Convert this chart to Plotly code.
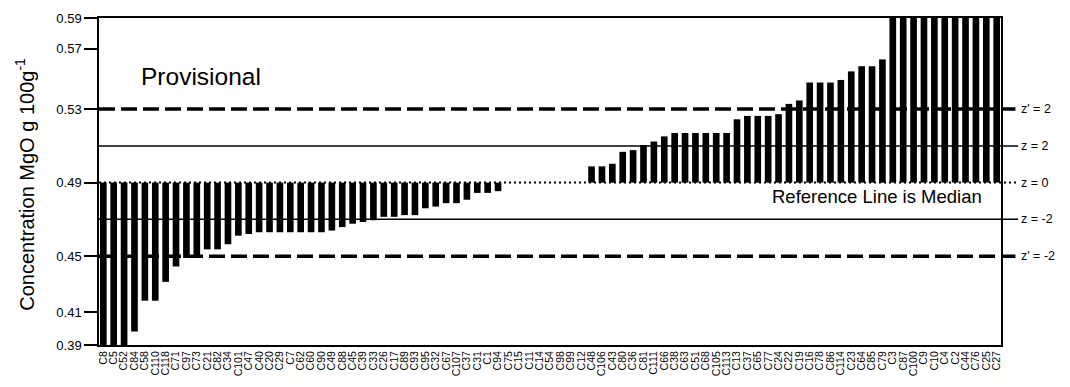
import plotly.graph_objects as go

# Laboratory codes, ordered by reported concentration
labs = [
    "C8", "C5", "C52", "C84", "C58", "C110", "C118", "C71", "C97", "C73",
    "C21", "C82", "C34", "C101", "C47", "C40", "C20", "C29", "C7", "C62",
    "C60", "C90", "C49", "C88", "C45", "C39", "C33", "C26", "C17", "C89",
    "C93", "C95", "C32", "C67", "C107", "C37", "C31", "C1", "C94", "C75",
    "C15", "C11", "C14", "C54", "C98", "C99", "C12", "C48", "C106", "C43",
    "C80", "C36", "C81", "C111", "C66", "C38", "C63", "C51", "C68", "C105",
    "C113", "C13", "C37", "C65", "C77", "C24", "C22", "C19", "C16", "C78",
    "C86", "C114", "C23", "C64", "C85", "C79", "C3", "C87", "C100", "C9",
    "C10", "C4", "C2", "C44", "C76", "C25", "C27",
]

# Reported MgO concentrations (g/100 g)
results = [
    0.380, 0.380, 0.385, 0.403, 0.421, 0.421, 0.432, 0.441, 0.446, 0.446,
    0.451, 0.451, 0.454, 0.459, 0.460, 0.461, 0.461, 0.461, 0.461, 0.461,
    0.461, 0.461, 0.462, 0.464, 0.466, 0.467, 0.468, 0.470, 0.470, 0.471,
    0.471, 0.475, 0.476, 0.478, 0.478, 0.480, 0.484, 0.484, 0.485, 0.490,
    0.490, 0.490, 0.490, 0.490, 0.490, 0.490, 0.490, 0.4995, 0.4995, 0.501,
    0.508, 0.509, 0.512, 0.514, 0.517, 0.519, 0.519, 0.519, 0.519, 0.519,
    0.519, 0.527, 0.529, 0.529, 0.529, 0.530, 0.536, 0.538, 0.5485, 0.5485,
    0.5485, 0.550, 0.555, 0.558, 0.558, 0.562, 0.600, 0.600, 0.610, 0.610,
    0.620, 0.620, 0.630, 0.640, 0.650, 0.660, 0.680,
]

# Assigned value and standard deviations for z and z' scores
median = 0.49
sigma_z = 0.0107
sigma_zp = 0.0215

# Axis scale: limits and labelled tick positions
y_min, y_max = 0.3951, 0.5862
tick_vals = [0.3951, 0.4143, 0.447, 0.49, 0.533, 0.5682, 0.5862]
tick_text = ["0.39", "0.41", "0.45", "0.49", "0.53", "0.57", "0.59"]

FONT = "Liberation Sans, Arial, sans-serif"
positions = list(range(1, len(labs) + 1))

fig = go.Figure()
fig.add_trace(go.Bar(
    x=positions,
    y=[v - median for v in results],
    base=median,
    width=0.64,
    marker=dict(color="black", line=dict(width=0)),
    hoverinfo="skip",
))

# Reference lines: z' = +/-2 (dashed), z = +/-2 (solid), median (dotted)
ref_lines = [
    (median + 2 * sigma_zp, dict(color="black", width=3.5, dash="16px,6px"), 1.016, "z' = 2"),
    (median + 2 * sigma_z, dict(color="black", width=1.5), 1.019, "z = 2"),
    (median, dict(color="black", width=2, dash="2px,3px"), 1.020, "z = 0"),
    (median - 2 * sigma_z, dict(color="black", width=1.5), 1.019, "z = -2"),
    (median - 2 * sigma_zp, dict(color="black", width=3.5, dash="16px,6px"), 1.016, "z' = -2"),
]
for yv, style, x_end, label in ref_lines:
    fig.add_shape(type="line", xref="paper", yref="y", x0=0, x1=x_end,
                  y0=yv, y1=yv, line=style, layer="above")
    fig.add_annotation(xref="paper", yref="y", x=1, y=yv, xanchor="left",
                       yanchor="middle", xshift=18, text=label, showarrow=False,
                       font=dict(family=FONT, size=12.5, color="black"))

fig.add_annotation(xref="paper", yref="paper", x=0.0444, y=0.821,
                   xanchor="left", yanchor="middle", text="Provisional",
                   showarrow=False, font=dict(family=FONT, size=24.5, color="black"))
fig.add_annotation(xref="paper", yref="paper", x=0.981, y=0.455,
                   xanchor="right", yanchor="middle", text="Reference Line is Median",
                   showarrow=False, font=dict(family=FONT, size=18.5, color="black"))
fig.add_annotation(xref="paper", yref="paper", x=0, y=0.49, xshift=-74,
                   xanchor="center", yanchor="middle", textangle=-90,
                   text="Concentration MgO g 100g<sup>-1</sup>", showarrow=False,
                   font=dict(family=FONT, size=20, color="black"))

fig.update_layout(
    width=1070, height=387,
    margin=dict(l=99, r=69, t=11, b=40, pad=0),
    paper_bgcolor="white", plot_bgcolor="white",
    showlegend=False,
    font=dict(family=FONT, color="black"),
)
fig.update_xaxes(
    range=[0.585, len(labs) + 0.415],
    tickmode="array", tickvals=positions, ticktext=labs,
    tickangle=-90, tickfont=dict(family=FONT, size=10.5, color="black"),
    ticks="", showgrid=False, zeroline=False,
    showline=True, linecolor="black", linewidth=2, mirror=True,
)
fig.update_yaxes(
    range=[y_min, y_max],
    tickmode="array", tickvals=tick_vals, ticktext=tick_text,
    tickfont=dict(family=FONT, size=13, color="black"),
    ticks="outside", ticklen=13, tickwidth=1.5, tickcolor="black",
    showgrid=False, zeroline=False,
    showline=True, linecolor="black", linewidth=1.5, mirror=True,
)

fig.write_html("out.html")
